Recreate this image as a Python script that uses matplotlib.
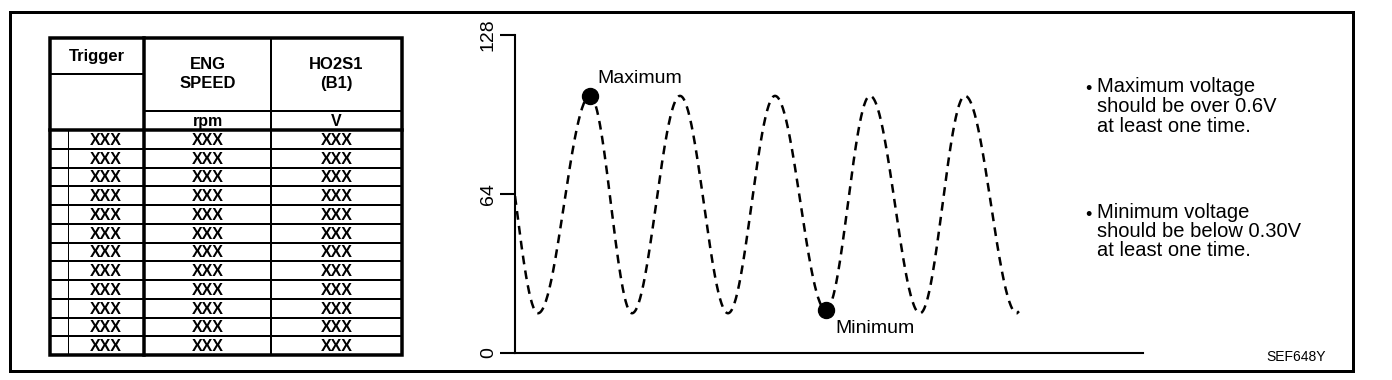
import matplotlib
matplotlib.use("Agg")
import matplotlib.pyplot as plt
import numpy as np

plt.rcParams['font.family'] = ['Liberation Sans', 'DejaVu Sans']

# table content
col_titles = ["Trigger", "ENG\nSPEED", "HO2S1\n(B1)"]
col_units = ["", "rpm", "V"]
row_values = [["XXX", "XXX", "XXX"]] * 12

# O2 sensor trace: turning points (time, value), first one lies just before the axis
ext_t = [-21, 23, 75, 117, 165, 213, 260, 311, 355, 405, 450, 502]
ext_v = [104, 16, 103.5, 16, 103.5, 16, 103.5, 17.3, 103.5, 16, 103.5, 16]
end_t = 504
max_pt = (75, 103.5)
min_pt = (311, 17.3)
yticks = [0, 64, 128]

notes = [["Maximum voltage", "should be over 0.6V", "at least one time."],
         ["Minimum voltage", "should be below 0.30V", "at least one time."]]
code_label = "SEF648Y"

W, H = 1392, 380
fig = plt.figure(figsize=(W / 100, H / 100), dpi=100)
bg = fig.add_axes([0, 0, 1, 1])
bg.set_xlim(0, W)
bg.set_ylim(H, 0)
bg.axis("off")

def px(v):
    return v * 0.72

# outer frame
bg.add_patch(plt.Rectangle((10, 12), 1343, 359, fill=False, lw=px(3), color="black"))

# table geometry (pixels)
xl, xt, x1, x2, xr = 50, 68, 144, 271, 402
yt, ytrig, yunit, yhead, yb = 38, 74, 111, 130, 355
row_h = (yb - yhead) / len(row_values)
lw_thick, lw_thin = px(3.5), px(2)

bg.add_patch(plt.Rectangle((xl, yt), xr - xl, yb - yt, fill=False, lw=lw_thick, color="black"))
bg.plot([x1, x1], [yt, yb], color="black", lw=lw_thick)
bg.plot([x2, x2], [yt, yb], color="black", lw=lw_thin)
bg.plot([xl, x1], [ytrig, ytrig], color="black", lw=lw_thin)
bg.plot([x1, xr], [yunit, yunit], color="black", lw=lw_thin)
bg.plot([xl, xr], [yhead, yhead], color="black", lw=lw_thick)
bg.plot([xt, xt], [yhead, yb], color="black", lw=px(1))
for i in range(1, len(row_values)):
    y = yhead + i * row_h
    bg.plot([xl, xr], [y, y], color="black", lw=lw_thin)

centers = [(xt + x1) / 2, (x1 + x2) / 2, (x2 + xr) / 2]
bg.text((xl + x1) / 2, 56, col_titles[0], ha="center", va="center", fontsize=12, weight="bold")
for c, t in zip(centers[1:], col_titles[1:]):
    bg.text(c, 74, t, ha="center", va="center", fontsize=12, weight="bold", linespacing=1.3)
for c, u in zip(centers[1:], col_units[1:]):
    bg.text(c, (yunit + yhead) / 2 + 1, u, ha="center", va="center", fontsize=11.5, weight="bold")
for i, row in enumerate(row_values):
    yc = yhead + (i + 0.5) * row_h + 1
    for c, v in zip(centers, row):
        bg.text(c, yc, v, ha="center", va="center", fontsize=11.5, weight="bold")

# chart
ax = fig.add_axes([515 / W, (H - 353) / H, 628 / W, 318 / H])
t_all, v_all = [], []
for k in range(len(ext_t) - 1):
    ta, tb = ext_t[k], ext_t[k + 1]
    va, vb = ext_v[k], ext_v[k + 1]
    s = np.linspace(0, 1, 60)
    t_all.append(ta + (tb - ta) * s)
    v_all.append(va + (vb - va) * (1 - np.cos(np.pi * s)) / 2)
t_all = np.concatenate(t_all)
v_all = np.concatenate(v_all)
t_last = np.linspace(ext_t[-1], end_t, 5)
t_all = np.concatenate([t_all, t_last])
v_all = np.concatenate([v_all, np.full(5, ext_v[-1]) + (t_last - ext_t[-1]) * 0.4])

ax.plot(t_all, v_all, color="black", lw=1.8, dashes=(3.5, 2.5))
ax.plot(*max_pt, "o", color="black", ms=11.5)
ax.plot(*min_pt, "o", color="black", ms=11.5)
ax.text(max_pt[0] + 7, max_pt[1] + 7, "Maximum", fontsize=14, va="center", ha="left")
ax.text(min_pt[0] + 9, min_pt[1] - 7.5, "Minimum", fontsize=14, va="center", ha="left")

ax.set_xlim(0, 628)
ax.set_ylim(0, 128)
ax.set_xticks([])
ax.set_yticks(yticks)
ax.set_yticklabels([str(v) for v in yticks], rotation=90, va="center", fontsize=14)
ax.tick_params(axis="y", length=11, width=1.5, pad=2)
for s in ["top", "right"]:
    ax.spines[s].set_visible(False)
for s in ["left", "bottom"]:
    ax.spines[s].set_linewidth(1.5)
ax.patch.set_alpha(0)

# notes on the right
for block, y0 in zip(notes, [87, 212]):
    bg.text(1085, y0 + 1, "•", fontsize=13, va="center_baseline", ha="left")
    for j, line in enumerate(block):
        bg.text(1097, y0 + j * 19.5, line, fontsize=14.5, va="center", ha="left")

bg.text(1296, 357, code_label, fontsize=10, ha="center", va="center")

fig.savefig("out.png", dpi=100)
